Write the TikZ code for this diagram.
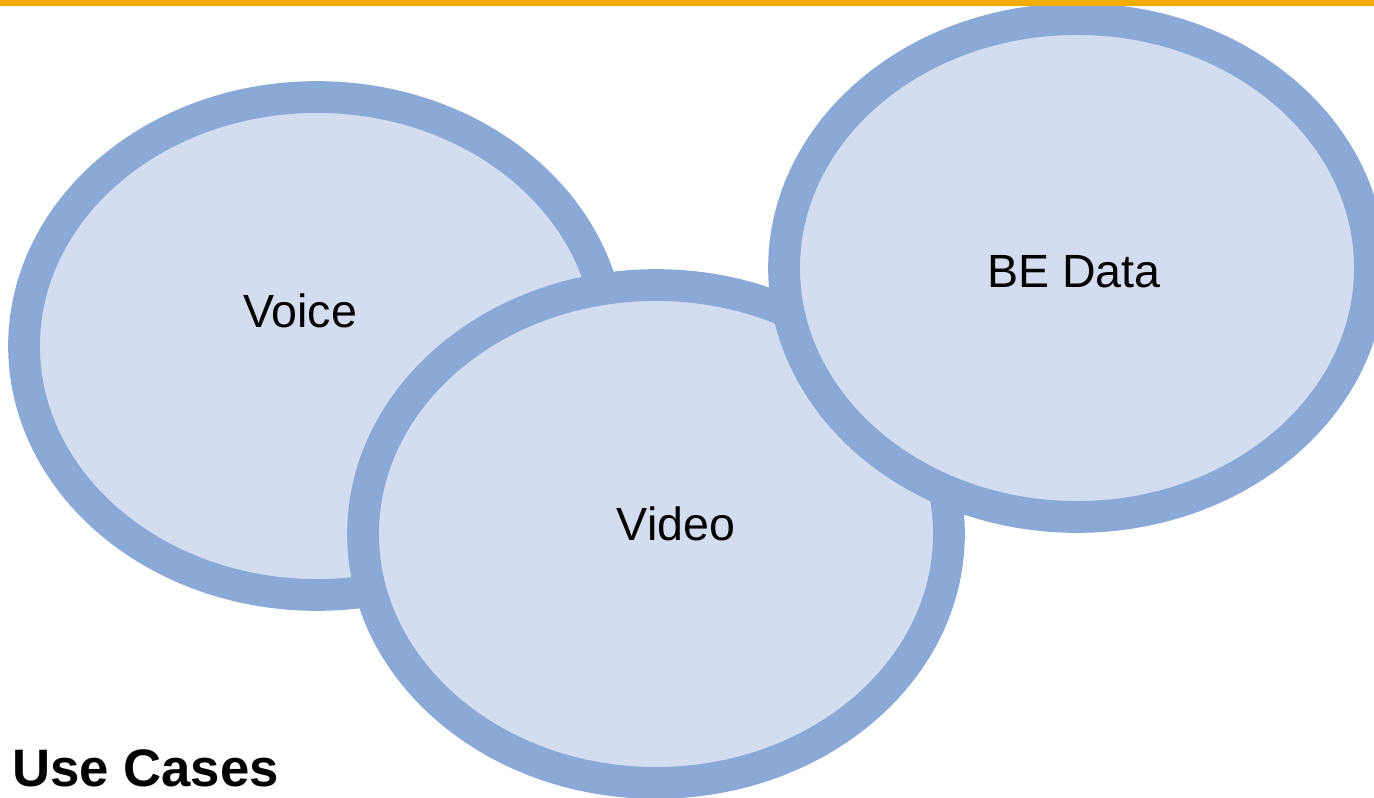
\documentclass[tikz,border=0pt]{standalone}
\usepackage{fontspec}
\setmainfont{Liberation Sans}
\usetikzlibrary{shapes.geometric}

\definecolor{ringblue}{HTML}{8AA9D7}
\definecolor{ringfill}{HTML}{D4DDEF}
\definecolor{topbar}{HTML}{F4AC00}

\begin{document}
\begin{tikzpicture}[
  x=0.02cm,y=-0.02cm,
  usecase/.style={ellipse,draw=ringblue,fill=ringfill,line width=18.1pt,
    minimum width=11.72cm,minimum height=9.96cm,inner sep=0pt},
  tag/.style={font=\fontsize{26.5}{32}\selectfont,inner sep=0pt}
]
  \useasboundingbox (0,0) rectangle (1374,798);

  % overlapping rings, later ones on top
  \node[usecase] (voice) at (317,346) {};
  \node[usecase] (video) at (656,534) {};
  \node[usecase] (bedata) at (1077,268) {};

  \node[tag] (voicetxt) at (300,311) {Voice};
  \node[tag] (videotxt) at (676,524) {Video};
  \node[tag] (bedatatxt) at (1074,272) {BE Data};

  % title and top rule
  \node[anchor=base west,inner sep=0pt,font=\bfseries\fontsize{30}{36}\selectfont] (title) at (12,786) {Use Cases};
  \fill[topbar] (0,0) rectangle (1374,6);
\end{tikzpicture}
\end{document}
